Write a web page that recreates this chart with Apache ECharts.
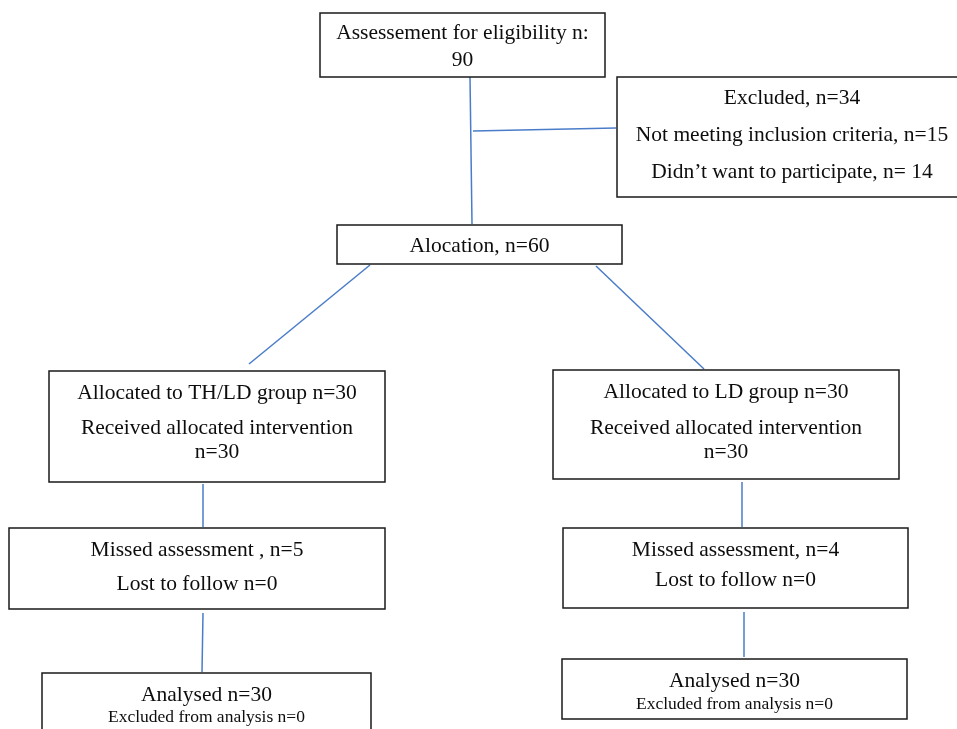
<!DOCTYPE html>
<html>
<head>
<meta charset="utf-8">
<script src="https://cdn.jsdelivr.net/npm/echarts@6/dist/echarts.min.js"></script>
<style>
html,body{margin:0;padding:0;background:#fff;}
#chart{width:957px;height:729px;}
</style>
</head>
<body>
<div id="chart"></div>
<script>
// ---- Content (texts) ----
const nodeTexts = [
  ["Assessement for eligibility n:", "90"],
  ["Excluded, n=34", "Not meeting inclusion criteria, n=15", "Didn\u2019t want to participate, n= 14"],
  ["Alocation, n=60"],
  ["Allocated to TH/LD group n=30", "Received allocated intervention", "n=30"],
  ["Allocated to LD group n=30", "Received allocated intervention", "n=30"],
  ["Missed assessment , n=5", "Lost to follow n=0"],
  ["Missed assessment, n=4", "Lost to follow n=0"],
  ["Analysed n=30", "Excluded from analysis n=0"],
  ["Analysed n=30", "Excluded from analysis n=0"]
];

// ---- Layout (positions in page coordinates) ----
const nodeBoxes = [
  [320, 13, 605, 77],
  [617, 77, 967, 197],
  [337, 225, 622, 264],
  [49, 371, 385, 482],
  [553, 370, 899, 479],
  [9, 528, 385, 609],
  [563, 528, 908, 608],
  [42, 673, 371, 740],
  [562, 659, 907, 719]
];
const nodeLineY = [
  [33, 60],
  [98, 135, 172],
  [246],
  [393, 428, 452],
  [392, 428, 452],
  [550, 584],
  [550, 580],
  [695, 717],
  [681, 704]
];
const nodeFontSizes = [
  [21.5, 21.5],
  [21.5, 21.5, 21.5],
  [21.5],
  [21.5, 21.5, 21.5],
  [21.5, 21.5, 21.5],
  [21.5, 21.5],
  [21.5, 21.5],
  [21.5, 17.5],
  [21.5, 17.5]
];
const connectors = [
  [470, 77, 472, 224],
  [473, 131, 616, 128],
  [370, 265, 249, 364],
  [596, 266, 704, 369],
  [203, 484, 203, 527],
  [742, 482, 742, 527],
  [203, 613, 202, 672],
  [744, 612, 744, 657]
];

const chart = echarts.init(document.getElementById('chart'), null, {renderer: 'canvas'});

const boxData = nodeBoxes.map((b, i) => [b[0], b[1], b[2], b[3], i]);

const option = {
  animation: false,
  backgroundColor: '#ffffff',
  grid: {left: 0, right: 0, top: 0, bottom: 0},
  xAxis: {type: 'value', min: 0, max: 957, show: false},
  yAxis: {type: 'value', min: 0, max: 729, inverse: true, show: false},
  series: [
    {
      type: 'custom',
      clip: false,
      data: connectors,
      renderItem: function (params, api) {
        const p1 = api.coord([api.value(0), api.value(1)]);
        const p2 = api.coord([api.value(2), api.value(3)]);
        return {
          type: 'line',
          shape: {x1: p1[0], y1: p1[1], x2: p2[0], y2: p2[1]},
          style: {stroke: '#4a7cc9', lineWidth: 1.5}
        };
      }
    },
    {
      type: 'custom',
      clip: false,
      data: boxData,
      renderItem: function (params, api) {
        const idx = api.value(4);
        const p1 = api.coord([api.value(0), api.value(1)]);
        const p2 = api.coord([api.value(2), api.value(3)]);
        const cx = (p1[0] + p2[0]) / 2;
        const children = [{
          type: 'rect',
          shape: {x: p1[0], y: p1[1], width: p2[0] - p1[0], height: p2[1] - p1[1]},
          style: {fill: '#ffffff', stroke: '#1a1a1a', lineWidth: 1.5}
        }];
        nodeTexts[idx].forEach((t, j) => {
          const py = api.coord([0, nodeLineY[idx][j]])[1];
          children.push({
            type: 'text',
            style: {
              x: cx, y: py, text: t,
              fill: '#0d0d0d',
              font: nodeFontSizes[idx][j] + 'px "Liberation Serif", "Times New Roman", serif',
              align: 'center', verticalAlign: 'middle'
            }
          });
        });
        return {type: 'group', children: children};
      }
    }
  ]
};
chart.setOption(option);
</script>
</body>
</html>
